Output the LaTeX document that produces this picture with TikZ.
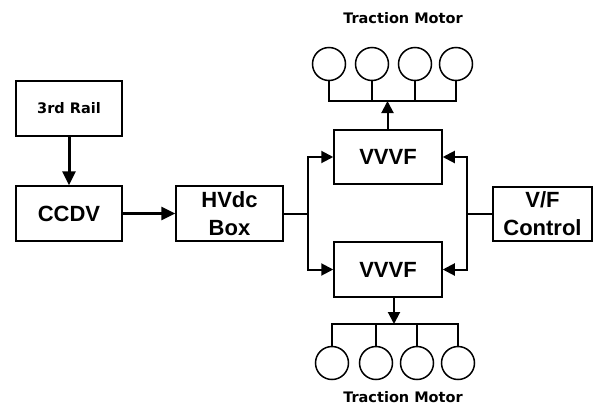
\documentclass[tikz,border=0pt]{standalone}
\usepackage{fontspec}
\setmainfont{Liberation Sans}
\newfontfamily\handfont{DejaVu Sans}
\usetikzlibrary{arrows.meta}
\begin{document}
\begin{tikzpicture}[
    x=1pt, y=-1pt,
    box/.style={rectangle, draw, line width=1.5pt, inner sep=0pt, align=center,
        font=\fontsize{22}{28}\selectfont\bfseries},
    small/.style={font=\handfont\fontsize{14.5}{16}\selectfont\bfseries},
    motor/.style={circle, draw, line width=1.5pt, minimum size=33pt, inner sep=0pt},
    bigarrow/.style={-{Triangle[length=14pt, width=13pt]}, line width=3pt},
    arrow/.style={-{Triangle[length=12pt, width=12pt]}, line width=2pt},
    wire/.style={line width=2pt}
]
\useasboundingbox (0,0) rectangle (603,405);

% Boxes
\node[box, minimum width=106pt, minimum height=55pt, font=\handfont\fontsize{14.5}{16}\selectfont\bfseries] (rail) at (69,108.5) {3rd Rail};
\node[box, minimum width=106pt, minimum height=55pt] (ccdv) at (69,213.5) {CCDV};
\node[box, minimum width=107pt, minimum height=55pt] (hvdc) at (229.5,213.5) {HVdc\\Box};
\node[box, minimum width=108pt, minimum height=54pt] (vvvfA) at (388,157) {VVVF};
\node[box, minimum width=108pt, minimum height=55pt] (vvvfB) at (388,269.5) {VVVF};
\node[box, minimum width=99pt, minimum height=54pt] (vf) at (542.5,214) {V/F\\Control};

% Motors
\node[motor] (ma1) at (329,64) {};
\node[motor] (ma2) at (372,64) {};
\node[motor] (ma3) at (415,64) {};
\node[motor] (ma4) at (456,64) {};
\node[motor] (mb1) at (332,363) {};
\node[motor] (mb2) at (376,363) {};
\node[motor] (mb3) at (417,363) {};
\node[motor] (mb4) at (458,363) {};

% Labels
\node[small] (labA) at (403,18) {Traction Motor};
\node[small] (labB) at (403,397) {Traction Motor};

% Junctions
\coordinate (jl) at (308,213.5);
\coordinate (jr) at (467,214);
\coordinate (busA) at (387.5,101);
\coordinate (busB) at (394,324);

% Arrows
\draw[bigarrow] (rail) -- (ccdv);
\draw[bigarrow] (ccdv) -- (hvdc);
\draw[wire] (hvdc.east) -- (jl);
\draw[arrow] (jl) |- (vvvfA.west);
\draw[arrow] (jl) |- (vvvfB.west);
\draw[wire] (vf.west) -- (jr);
\draw[arrow] (jr) |- (vvvfA.east);
\draw[arrow] (jr) |- (vvvfB.east);

% Motor buses
\draw[wire] (ma1.south) -- (ma1.south |- busA) -- (ma4.south |- busA) -- (ma4.south);
\draw[wire] (ma2.south) -- (ma2.south |- busA);
\draw[wire] (ma3.south) -- (ma3.south |- busA);
\draw[arrow] (vvvfA.north -| busA) -- (busA);
\draw[wire] (mb1.north) -- (mb1.north |- busB) -- (mb4.north |- busB) -- (mb4.north);
\draw[wire] (mb2.north) -- (mb2.north |- busB);
\draw[wire] (mb3.north) -- (mb3.north |- busB);
\draw[arrow] (vvvfB.south -| busB) -- (busB);

\end{tikzpicture}
\end{document}
